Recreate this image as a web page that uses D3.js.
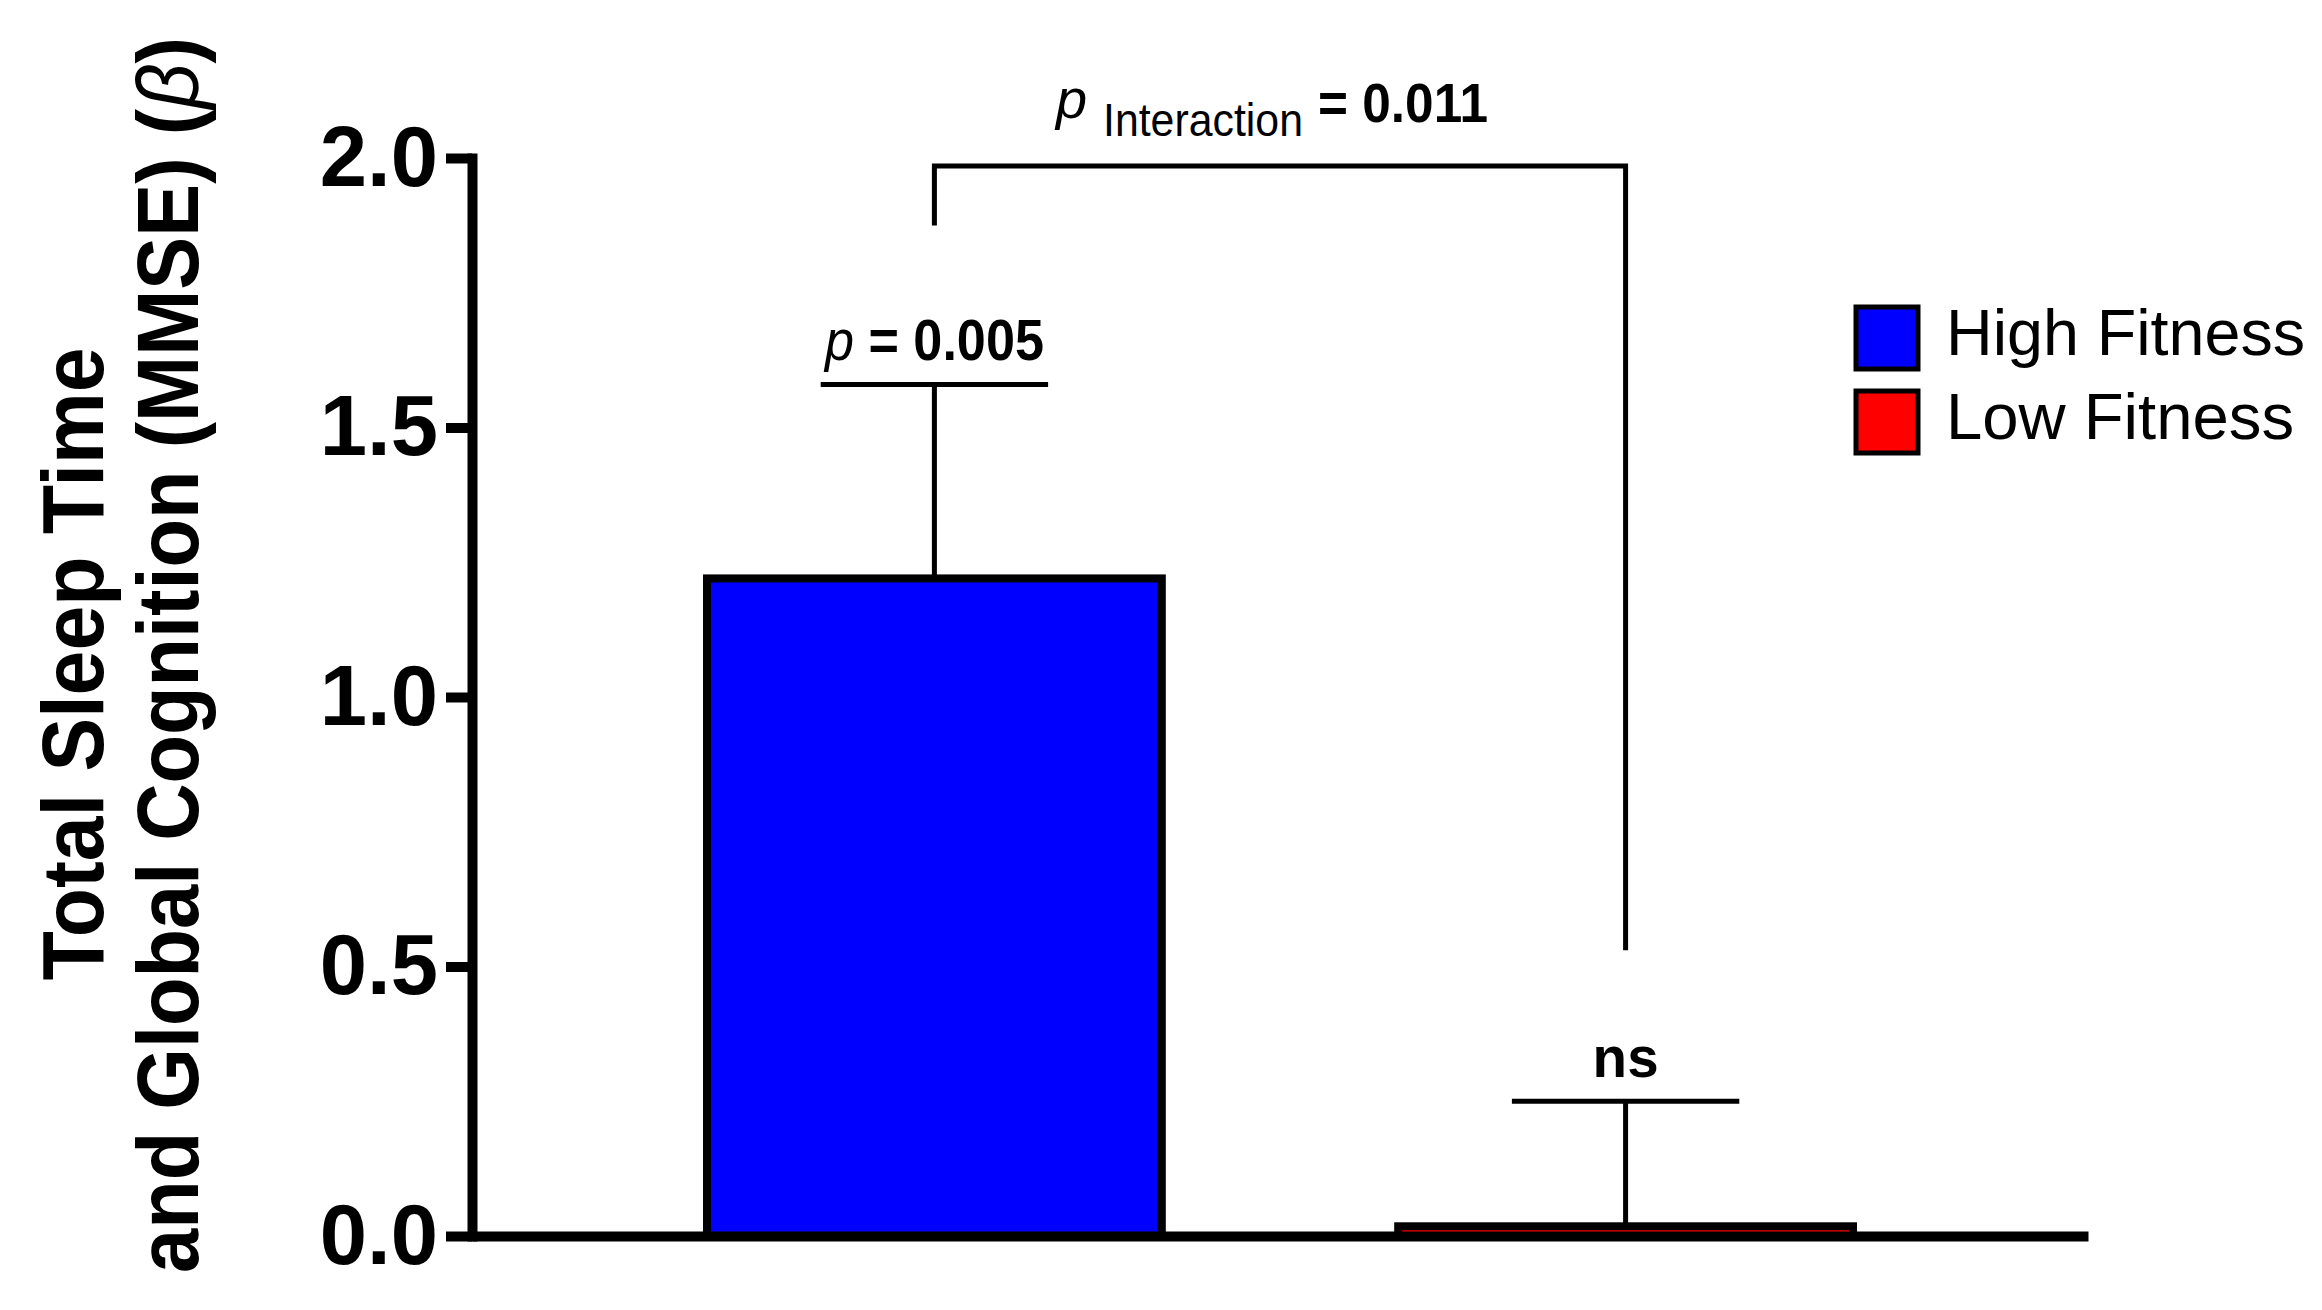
<!DOCTYPE html>
<html>
<head>
<meta charset="utf-8">
<script src="https://cdn.jsdelivr.net/npm/d3@7"></script>
<style>
  body { margin: 0; background: #fff; }
  svg { display: block; font-family: "Liberation Sans", Arial, sans-serif; }
</style>
</head>
<body>
<div id="chart"></div>
<script>
// groups, betas and SEM
const groups = ["High Fitness", "Low Fitness"];
const betas = [1.22, 0.018];
const errors = [0.36, 0.232];
const pLabels = ["0.005", "ns"];
const colors = ["#0000ff", "#ff0000"];
const yTicks = [0, 0.5, 1.0, 1.5, 2.0];
// interaction bracket: top level, left leg end, right leg end
const bracketLevels = [1.985, 1.875, 0.53];
const pInteraction = "0.011";

var width = 2322,
  height = 1310;

var svg = d3
  .select("#chart")
  .append("svg")
  .attr("width", width)
  .attr("height", height);

var x = d3
  .scaleBand()
  .domain(groups)
  .range([472, 2088])
  .paddingInner(0.342)
  .paddingOuter(0.34);

var y = d3.scaleLinear().domain([0, 2]).range([1236, 158]);

// bars
svg
  .append("g")
  .selectAll("rect")
  .data(groups)
  .enter()
  .append("rect")
  .attr("x", d => x(d))
  .attr("y", (d, i) => y(betas[i]))
  .attr("width", x.bandwidth())
  .attr("height", (d, i) => y(0) - y(betas[i]))
  .attr("fill", (d, i) => colors[i])
  .attr("stroke", "#000")
  .attr("stroke-width", 8);

// error bars (upper only)
var err = svg.append("g").attr("stroke", "#000").attr("stroke-width", 5);
groups.forEach(function(g, i) {
  var cx = x(g) + x.bandwidth() / 2;
  var top = y(betas[i] + errors[i]);
  err
    .append("line")
    .attr("x1", cx)
    .attr("x2", cx)
    .attr("y1", y(betas[i]))
    .attr("y2", top);
  err
    .append("line")
    .attr("x1", cx - x.bandwidth() / 4)
    .attr("x2", cx + x.bandwidth() / 4)
    .attr("y1", top)
    .attr("y2", top);
});

// axes
var yAxis = svg
  .append("g")
  .attr("transform", "translate(472,0)")
  .call(
    d3
      .axisLeft(y)
      .tickValues(yTicks)
      .tickFormat(d3.format(".1f"))
      .tickSize(26)
      .tickSizeOuter(0)
      .tickPadding(8)
  );
yAxis.select(".domain").attr("stroke-width", 10).attr("stroke-linecap", "square");
yAxis.selectAll(".tick line").attr("stroke-width", 10);
yAxis
  .selectAll(".tick text")
  .attr("font-family", "Liberation Sans, Arial, sans-serif")
  .attr("font-size", 85)
  .attr("font-weight", "bold")
  .attr("fill", "#000");

var xAxis = svg
  .append("g")
  .attr("transform", "translate(0," + y(0) + ")")
  .call(d3.axisBottom(x).tickSize(0).tickSizeOuter(0).tickFormat(() => ""));
xAxis.select(".domain").attr("stroke-width", 10);

// y axis title, two lines
var titleLines = ["Total Sleep Time", "and Global Cognition (MMSE) ("];
svg
  .append("text")
  .attr("transform", "translate(103,664) rotate(-90)")
  .attr("text-anchor", "middle")
  .attr("font-size", 88)
  .attr("font-weight", "bold")
  .attr("textLength", 633)
  .attr("lengthAdjust", "spacingAndGlyphs")
  .text(titleLines[0]);
var ttl2 = svg
  .append("text")
  .attr("transform", "translate(198,655) rotate(-90)")
  .attr("text-anchor", "middle")
  .attr("font-size", 88)
  .attr("font-weight", "bold")
  .attr("textLength", 1236)
  .attr("lengthAdjust", "spacingAndGlyphs");
ttl2.append("tspan").text(titleLines[1]);
ttl2.append("tspan").attr("font-style", "italic").attr("font-weight", "normal").text("\u03b2");
ttl2.append("tspan").text(")");

// significance labels over error bars
groups.forEach(function(g, i) {
  var cx = x(g) + x.bandwidth() / 2;
  var top = y(betas[i] + errors[i]);
  var t = svg
    .append("text")
    .attr("x", cx)
    .attr("y", top - 24)
    .attr("text-anchor", "middle")
    .attr("font-size", 58)
    .attr("font-weight", "bold");
  if (pLabels[i] == "ns") {
    t.attr("textLength", 66).attr("lengthAdjust", "spacingAndGlyphs").text("ns");
  } else {
    t.attr("textLength", 219).attr("lengthAdjust", "spacingAndGlyphs");
    t.append("tspan").attr("font-style", "italic").attr("font-weight", "normal").text("p");
    t.append("tspan").text(" = " + pLabels[i]);
  }
});

// interaction bracket
var bx1 = x(groups[0]) + x.bandwidth() / 2,
  bx2 = x(groups[1]) + x.bandwidth() / 2;
svg
  .append("path")
  .attr(
    "d",
    "M" + bx1 + " " + y(bracketLevels[1]) +
      " L" + bx1 + " " + y(bracketLevels[0]) +
      " L" + bx2 + " " + y(bracketLevels[0]) +
      " L" + bx2 + " " + y(bracketLevels[2])
  )
  .attr("fill", "none")
  .attr("stroke", "#000")
  .attr("stroke-width", 5);

var py = y(bracketLevels[0]);
svg
  .append("text")
  .attr("x", 1056)
  .attr("y", py - 48)
  .attr("font-size", 56)
  .attr("font-style", "italic")
  .text("p");
svg
  .append("text")
  .attr("x", 1103)
  .attr("y", py - 30)
  .attr("font-size", 46)
  .attr("textLength", 200)
  .attr("lengthAdjust", "spacingAndGlyphs")
  .text("Interaction");
svg
  .append("text")
  .attr("x", 1318)
  .attr("y", py - 44)
  .attr("font-size", 56)
  .attr("font-weight", "bold")
  .attr("textLength", 170)
  .attr("lengthAdjust", "spacingAndGlyphs")
  .text("= " + pInteraction);

// legend
var legend = svg
  .append("g")
  .selectAll("g")
  .data(groups)
  .enter()
  .append("g")
  .attr("transform", (d, i) => "translate(1856," + (307 + i * 84) + ")");
legend
  .append("rect")
  .attr("width", 62)
  .attr("height", 62)
  .attr("fill", (d, i) => colors[i])
  .attr("stroke", "#000")
  .attr("stroke-width", 5);
legend
  .append("text")
  .attr("x", 90)
  .attr("y", 48)
  .attr("font-size", 64)
  .attr("textLength", (d, i) => (i == 0 ? 359 : 348))
  .attr("lengthAdjust", "spacingAndGlyphs")
  .text(d => d);
</script>
</body>
</html>
